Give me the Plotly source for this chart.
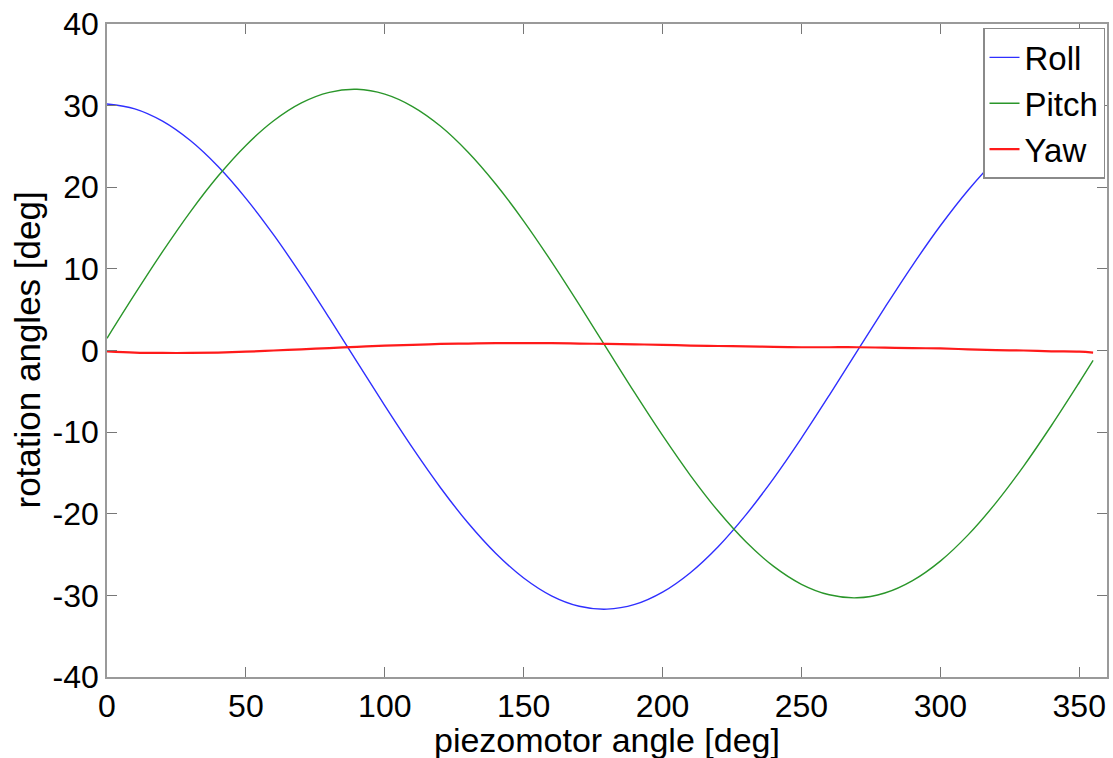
import plotly.graph_objects as go

angle = [0, 10, 20, 30, 40, 50, 60, 70, 80, 90, 100, 110, 120, 130, 140, 150, 160, 170,
         180, 190, 200, 210, 220, 230, 240, 250, 260, 270, 280, 290, 300, 310, 320, 330,
         340, 350, 355]

roll = [30.19, 29.61, 28.10, 25.72, 22.54, 18.64, 14.16, 9.23, 3.99, -1.40, -6.76, -11.94,
        -16.78, -21.14, -24.87, -27.87, -30.05, -31.33, -31.69, -31.11, -29.60, -27.22,
        -24.04, -20.14, -15.66, -10.73, -5.49, -0.10, 5.26, 10.44, 15.28, 19.64, 23.37,
        26.37, 28.55, 29.83, 30.13]

pitch = [1.50, 6.90, 12.11, 16.99, 21.37, 25.13, 28.15, 30.34, 31.63, 32.00, 31.41, 29.89,
         27.50, 24.29, 20.37, 15.86, 10.89, 5.62, 0.20, -5.20, -10.41, -15.29, -19.67,
         -23.43, -26.45, -28.64, -29.93, -30.30, -29.71, -28.19, -25.80, -22.59, -18.67,
         -14.16, -9.19, -3.92, -1.22]

yaw = [-0.10, -0.25, -0.30, -0.30, -0.25, -0.15, 0.00, 0.15, 0.30, 0.45, 0.60, 0.70, 0.80,
       0.85, 0.90, 0.90, 0.90, 0.85, 0.80, 0.75, 0.70, 0.60, 0.55, 0.50, 0.45, 0.40, 0.40,
       0.40, 0.35, 0.30, 0.25, 0.15, 0.05, 0.00, -0.10, -0.15, -0.25]

x_ticks = [0, 50, 100, 150, 200, 250, 300, 350]
y_ticks = [-40, -30, -20, -10, 0, 10, 20, 30, 40]
y_tick_text = ["-40", "-30", "-20", "-10", "0", "10", "20", "30", "40"]

FONT = "Liberation Sans, Arial, sans-serif"

fig = go.Figure()
fig.add_trace(go.Scatter(x=angle, y=roll, mode="lines", name="Roll",
                         line=dict(color="#2f2fff", width=1.4, shape="spline")))
fig.add_trace(go.Scatter(x=angle, y=pitch, mode="lines", name="Pitch",
                         line=dict(color="#2a962a", width=1.4, shape="spline")))
fig.add_trace(go.Scatter(x=angle, y=yaw, mode="lines", name="Yaw",
                         line=dict(color="#ff1a1a", width=2.2, shape="spline")))

axis_common = dict(
    showgrid=False, zeroline=False, showline=True, linecolor="#9a9a9a", linewidth=1.5,
    mirror="ticks", ticks="inside", ticklen=10, tickcolor="#777777", tickwidth=1,
    tickfont=dict(family=FONT, size=32, color="black"), automargin=False,
    ticklabeloverflow="allow",
)

fig.update_layout(
    width=1113, height=758,
    margin=dict(l=107, r=6, t=24, b=81),
    paper_bgcolor="white", plot_bgcolor="white",
    font=dict(family=FONT, color="black"),
    showlegend=True,
    legend=dict(
        x=0.998, y=0.994, xanchor="right", yanchor="top",
        bgcolor="white", bordercolor="#8a8a8a", borderwidth=1.5,
        font=dict(family=FONT, size=33, color="black"),
        tracegroupgap=0, itemwidth=30,
    ),
    xaxis=dict(range=[0, 360], tickvals=x_ticks, **axis_common),
    yaxis=dict(range=[-40, 40], tickvals=y_ticks, ticktext=y_tick_text, **axis_common),
    annotations=[
        dict(text="piezomotor angle [deg]", xref="paper", yref="paper",
             x=0.5, y=-0.097, xanchor="center", yanchor="middle", showarrow=False,
             font=dict(family=FONT, size=34, color="black")),
        dict(text="rotation angles [deg]", xref="paper", yref="paper",
             x=-0.080, y=0.5, xanchor="center", yanchor="middle", showarrow=False,
             textangle=-90, font=dict(family=FONT, size=35, color="black")),
    ],
)

# remove the page's default body margin so the figure fills the window exactly
fig.write_html("out.html", config={"displayModeBar": False},
               post_script="document.body.style.margin='0';")
